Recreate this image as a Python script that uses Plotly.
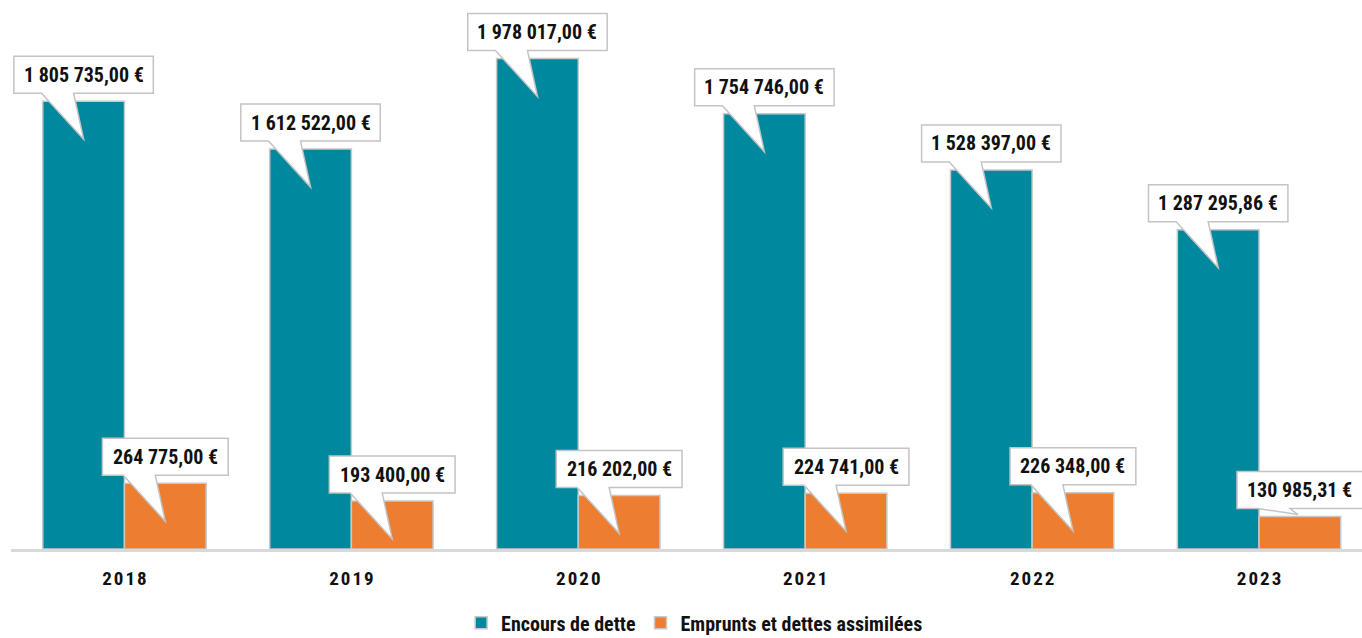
import plotly.graph_objects as go

years = ["2018", "2019", "2020", "2021", "2022", "2023"]
encours = [1805735.00, 1612522.00, 1978017.00, 1754746.00, 1528397.00, 1287295.86]
emprunts = [264775.00, 193400.00, 216202.00, 224741.00, 226348.00, 130985.31]
series_names = ["Encours de dette", "Emprunts et dettes assimilées"]

TEAL = "#00899E"
ORANGE = "#ED7D31"
FONT = "Liberation Sans Narrow, Roboto Condensed, DejaVu Sans Condensed, sans-serif"
TXT = "#111111"
LBL_SIZE = 20

def fmt(v):
    s = f"{v:,.2f}".replace(",", " ").replace(".", ",")
    return s + " €"

# approximate glyph widths (per 1000 em) for a narrow bold face
CW = {" ": 228, ",": 228, "€": 456}
def text_w(s, size):
    return sum(CW.get(c, 456) for c in s) * size / 1000.0

x = list(range(len(years)))
W = 0.36

fig = go.Figure()
fig.add_trace(go.Bar(x=x, y=encours, name=series_names[0], width=W, offset=-W,
                     marker=dict(color=TEAL, line=dict(color="#c8c8c8", width=1.5))))
fig.add_trace(go.Bar(x=x, y=emprunts, name=series_names[1], width=W, offset=0,
                     marker=dict(color=ORANGE, line=dict(color="#c8c8c8", width=1.5))))

shapes = []
annotations = []
YB, YT = 8, 45
for series, off in ((encours, -W / 2), (emprunts, W / 2)):
    for i, v in enumerate(series):
        label = fmt(v)
        h = (text_w(label, LBL_SIZE) + 30) / 2
        if v > 150000:
            tx, ty = 0, -38
        else:
            tx, ty = -2, 2
        path = (f"M {-h},{YB} L -42,{YB} L {tx},{ty} L -10,{YB} L {h},{YB} "
                f"L {h},{YT} L {-h},{YT} Z")
        shapes.append(dict(type="path", xref="x", yref="y",
                           xsizemode="pixel", ysizemode="pixel",
                           xanchor=i + off, yanchor=v, path=path,
                           fillcolor="white", line=dict(color="#c4c4c4", width=1.5),
                           layer="above"))
        annotations.append(dict(x=i + off, y=v, xref="x", yref="y", text=label,
                                showarrow=False, yshift=(YB + YT) / 2,
                                xanchor="center", yanchor="middle",
                                font=dict(family=FONT, size=LBL_SIZE, color=TXT, weight="bold")))

ticktext = ["\u200a".join(list(y)) for y in years]

fig.update_layout(
    width=1362, height=638,
    margin=dict(l=11, r=0, t=5, b=89),
    paper_bgcolor="white", plot_bgcolor="white",
    barmode="overlay",
    showlegend=True,
    legend=dict(orientation="h", xref="container", yref="container",
                x=0.51, xanchor="center", y=0.024, yanchor="middle",
                font=dict(family=FONT, size=20, color=TXT, weight="bold"),
                itemwidth=30, traceorder="normal"),
    shapes=shapes,
    annotations=annotations,
    font=dict(family=FONT, color=TXT),
)
fig.update_xaxes(range=[-0.5, 5.4537], tickmode="array", tickvals=x, ticktext=ticktext,
                 showline=True, linecolor="#d9d9d9", linewidth=3, showgrid=False,
                 zeroline=False, ticks="", ticklabelstandoff=10,
                 tickfont=dict(family=FONT, size=19, color=TXT, weight="bold"))
fig.update_yaxes(range=[0, 2193548], showticklabels=False, showgrid=False,
                 zeroline=False, showline=False)

fig.write_html("out.html")
